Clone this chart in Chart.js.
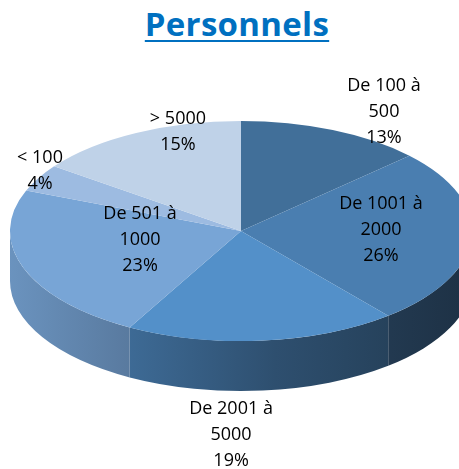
<!DOCTYPE html>
<html>
<head>
<meta charset="utf-8">
<script src="https://cdn.jsdelivr.net/npm/chart.js@4"></script>
<style>
  html, body { margin: 0; padding: 0; background: #fff; }
  #wrap { position: relative; width: 459px; height: 469px; }
  #title {
    position: absolute; left: 0; top: 1px; width: 474px; text-align: center;
    font: bold 33px "Open Sans", sans-serif; color: #0070c0; letter-spacing: 0.3px;
    text-decoration: underline; text-decoration-thickness: 2px; text-underline-offset: 4px;
  }
  canvas { position: absolute; left: 0; top: 0; }
</style>
</head>
<body>
<div id="wrap">
  <div id="title">Personnels</div>
  <canvas id="chart-area" width="459" height="469"></canvas>
</div>
<script>
  'use strict';

  // data, clockwise from 12 o'clock
  var categories = ['De 100 à 500', 'De 1001 à 2000', 'De 2001 à 5000', 'De 501 à 1000', '< 100', '> 5000'];
  var shares = [13, 26, 19, 23, 4, 15];

  // styles
  var sliceColors = ['#416f99', '#4a7eb0', '#5390c9', '#78a5d6', '#9dbbe1', '#bfd2e8'];
  // label block centres, in units of the ellipse radii
  var labelAnchors = [[0.619, -1.08], [0.606, -0.009], [-0.043, 1.85], [-0.437, 0.083], [-0.870, -0.545], [-0.273, -0.90]];

  // where the flat pie ends up on screen
  var ellipse = { cx: 241, cy: 231, rx: 231, ry: 110, depth: 50 };

  function shade(hex, f) {
    var n = parseInt(hex.slice(1), 16);
    var r = Math.round(((n >> 16) & 255) * f);
    var g = Math.round(((n >> 8) & 255) * f);
    var b = Math.round((n & 255) * f);
    return 'rgb(' + r + ',' + g + ',' + b + ')';
  }

  var tiltPlugin = {
    id: 'tilt',
    beforeDatasetsDraw: function (chart) {
      var ctx = chart.ctx;
      var arcs = chart.getDatasetMeta(0).data;
      var e = ellipse;

      // side wall, only the front half is visible
      arcs.forEach(function (arc, i) {
        var t0 = Math.max(arc.startAngle, 0);
        var t1 = Math.min(arc.endAngle, Math.PI);
        if (t1 <= t0) return;
        var base = sliceColors[i];
        var grad = ctx.createLinearGradient(0, 0, 459, 0);
        grad.addColorStop(0, shade(base, 0.9));
        grad.addColorStop(0.25, shade(base, 0.76));
        grad.addColorStop(0.6, shade(base, 0.55));
        grad.addColorStop(1, shade(base, 0.4));
        ctx.save();
        ctx.beginPath();
        ctx.ellipse(e.cx, e.cy, e.rx, e.ry, 0, t0, t1);
        ctx.ellipse(e.cx, e.cy + e.depth, e.rx, e.ry, 0, t1, t0, true);
        ctx.closePath();
        ctx.fillStyle = grad;
        ctx.fill();
        ctx.restore();
      });

      // squash the library's pie into the top face
      var a = arcs[0];
      ctx.save();
      ctx.translate(e.cx, e.cy);
      ctx.scale(e.rx / a.outerRadius, e.ry / a.outerRadius);
      ctx.translate(-a.x, -a.y);
    },
    afterDatasetsDraw: function (chart) {
      var ctx = chart.ctx;
      ctx.restore();

      var total = shares.reduce(function (s, v) { return s + v; }, 0);
      ctx.save();
      ctx.font = '18px "Open Sans", sans-serif';
      ctx.fillStyle = '#000';
      ctx.textAlign = 'center';
      ctx.textBaseline = 'middle';
      categories.forEach(function (c, i) {
        var parts = c.split(' à ');
        var lines = parts.length > 1 ? [parts[0] + ' à', parts[1]] : [c];
        lines.push(Math.round(shares[i] / total * 100) + '%');
        var x = ellipse.cx + labelAnchors[i][0] * ellipse.rx;
        var y = ellipse.cy + labelAnchors[i][1] * ellipse.ry;
        var lh = 26;
        var y0 = y - (lines.length - 1) * lh / 2;
        lines.forEach(function (t, k) {
          ctx.fillText(t, x, y0 + k * lh);
        });
      });
      ctx.restore();
    }
  };

  var ctx = document.getElementById('chart-area').getContext('2d');
  window.myPie = new Chart(ctx, {
    type: 'pie',
    data: {
      labels: categories,
      datasets: [{
        data: shares,
        backgroundColor: sliceColors,
        borderWidth: 0
      }]
    },
    options: {
      responsive: false,
      animation: false,
      devicePixelRatio: 1,
      events: [],
      layout: { padding: 0 },
      plugins: {
        legend: { display: false },
        tooltip: { enabled: false },
        title: { display: false }
      }
    },
    plugins: [tiltPlugin]
  });
</script>
</body>
</html>
